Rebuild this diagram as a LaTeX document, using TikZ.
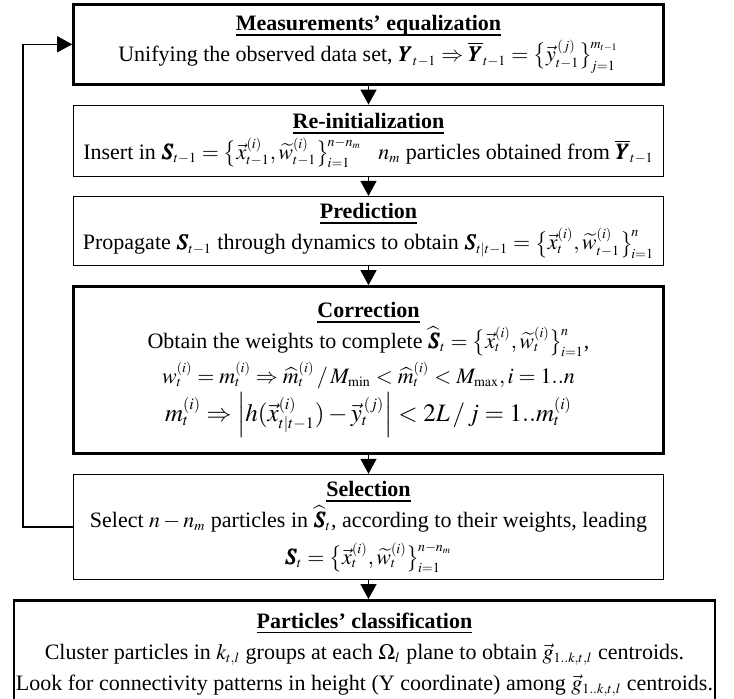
\documentclass[tikz,border=0pt]{standalone}
\usepackage{amsmath}
\usepackage{mathptmx}
\usepackage{bm}
\usepackage[no-math]{fontspec}
\setmainfont{Liberation Serif}
\usetikzlibrary{arrows.meta,positioning}
\DeclareMathSizes{11}{11}{7}{5}
\DeclareMathSizes{12.5}{12.5}{8}{6}
\newsavebox{\ttlbox}
\newcommand{\stagettl}[1]{\sbox{\ttlbox}{\textbf{#1}}\rlap{\rule[-2.6pt]{\wd\ttlbox}{0.9pt}}\usebox{\ttlbox}}
\newcommand{\pset}[3]{\bigl\{#1\bigr\}_{\!#2}^{\!#3}}
\tikzset{
  stage/.style={draw, line width=0.65pt, align=center, minimum width=295pt, inner sep=1pt, font=\fontsize{11}{15.5}\selectfont},
  keystage/.style={stage, line width=1.3pt},
  fl/.style={-{Triangle[width=8pt,length=7.5pt]}, line width=0.65pt},
}

\begin{document}
\begin{tikzpicture}[node distance=9.5pt]
  \useasboundingbox (0,0) rectangle (367pt,-349.5pt);
  \node[keystage, minimum height=40pt, anchor=north] (meas) at (184.25pt,-1.5pt)
    {\stagettl{Measurements’ equalization}\\
     Unifying the observed data set, $\bm{Y}_{t-1}\Rightarrow\overline{\bm{Y}}_{t-1}=\pset{\vec{y}^{\,(j)}_{t-1}}{j=1}{m_{t-1}}$};
  \node[stage, minimum height=35.5pt, below=of meas] (reinit)
    {\stagettl{Re-initialization}\\
     Insert in $\bm{S}_{t-1}=\pset{\vec{x}^{(i)}_{t-1},\widetilde{w}^{(i)}_{t-1}}{i=1}{n-n_m}$ \ \ $n_m$ particles obtained from $\overline{\bm{Y}}_{t-1}$};
  \node[stage, minimum height=34.5pt, below=of reinit] (pred)
    {\stagettl{Prediction}\\
     Propagate $\bm{S}_{t-1}$ through dynamics to obtain $\bm{S}_{t|t-1}=\pset{\vec{x}^{(i)}_{t},\widetilde{w}^{(i)}_{t-1}}{i=1}{n}$};
  \node[keystage, minimum height=83.5pt, below=of pred] (corr)
    {\stagettl{Correction}\\
     Obtain the weights to complete $\widehat{\bm{S}}_{t}=\pset{\vec{x}^{(i)}_{t},\widetilde{w}^{(i)}_{t}}{i=1}{n}$,\\[2pt]
     $w^{(i)}_t=m^{(i)}_t\Rightarrow\widehat{m}^{(i)}_t\,/\,M_{\min}<\widehat{m}^{(i)}_t<M_{\max},i=1..n$\\[1pt]
     {\fontsize{12.5}{16}\selectfont $m^{(i)}_t\Rightarrow\Bigl|h(\vec{x}^{(i)}_{t|t-1})-\vec{y}^{\,(j)}_t\Bigr|<2L\,/\,j=1..m^{(i)}_t$}};
  \node[stage, minimum height=52.5pt, below=of corr] (sel)
    {\stagettl{Selection}\\
     Select $n-n_m$ particles in $\widehat{\bm{S}}_{t}$, according to their weights, leading\\[3pt]
     $\bm{S}_{t}=\pset{\vec{x}^{(i)}_{t},\widetilde{w}^{(i)}_{t}}{i=1}{n-n_m}$};
  \node[keystage, minimum width=350pt, minimum height=54pt, below=of sel, xshift=-2pt] (clas)
    {\stagettl{Particles’ classification}\\
     Cluster particles in $k_{t,l}$ groups at each $\Omega_l$ plane to obtain $\vec{g}_{1..k,t,l}$ centroids.\\
     Look for connectivity patterns in height (Y coordinate) among $\vec{g}_{1..k,t,l}$ centroids.};
  % flow down the stages
  \draw[fl] (meas) -- (reinit);
  \draw[fl] (reinit) -- (pred);
  \draw[fl] (pred) -- (corr);
  \draw[fl] (corr) -- (sel);
  \draw[fl] (sel.south) -- (clas.north -| sel.south);
  % loop back
  \draw[fl] (sel.west) -- ++(-25pt,0) |- (meas.west);
\end{tikzpicture}
\end{document}
